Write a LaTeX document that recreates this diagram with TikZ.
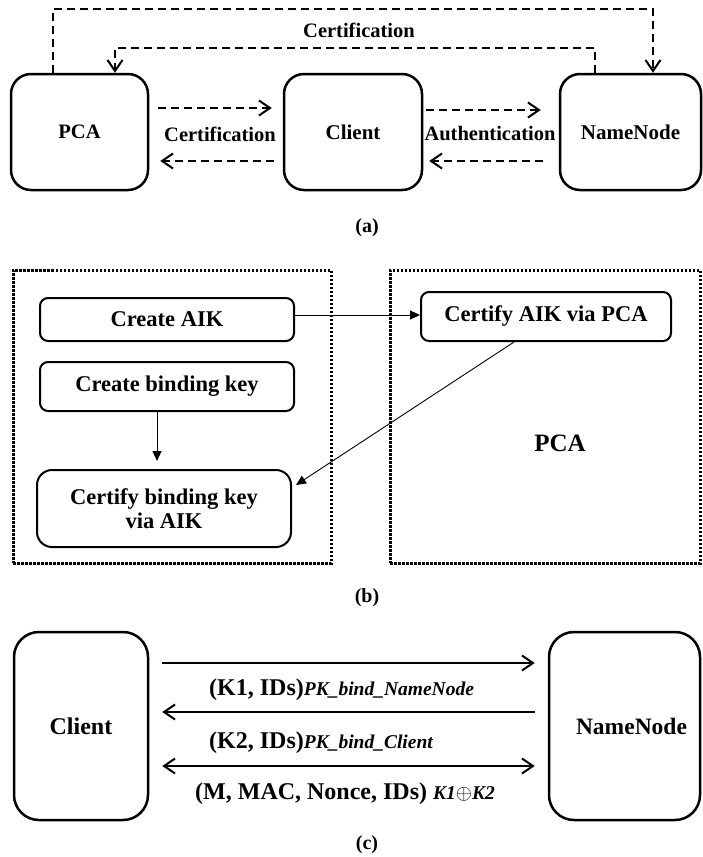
\documentclass[tikz,border=0pt]{standalone}
\usepackage{fontspec}
\setmainfont{Liberation Serif}
\usetikzlibrary{arrows.meta}

\newcommand{\fs}[1]{\fontsize{#1}{#1}\selectfont\bfseries}

\begin{document}
\begin{tikzpicture}[x=1pt,y=-1pt,
  bigbox/.style={draw,line width=2.5pt,rounded corners=#1,inner sep=0pt},
  bigbox/.default=20pt,
  stepbox/.style={draw,line width=2pt,rounded corners=#1,inner sep=0pt,align=center},
  stepbox/.default=8pt,
  dotbox/.style={draw,line width=3pt,dash pattern=on 2.5pt off 1.5pt,inner sep=0pt},
  barb/.tip={Straight Barb[length=11pt,width=15pt]},
  dashlink/.style={line width=2pt,dash pattern=on 8pt off 5pt,-{barb}},
  thinlink/.style={line width=0.9pt,-{Triangle[length=10pt,width=9pt]}},
  msg/.style={line width=2pt},
  caption/.style={font=\fs{20}},
]
\useasboundingbox (0,0) rectangle (702,857);

% ---------------- (a) ----------------
\node[bigbox,minimum width=137pt,minimum height=116pt,font=\fs{20.5}] (pca) at (79.5,132) {PCA};
\node[bigbox,minimum width=138pt,minimum height=116pt,font=\fs{21}] (cli) at (353,132) {Client};
\node[bigbox,minimum width=141pt,minimum height=116pt,font=\fs{21}] (nn) at (630.5,132) {NameNode};

\draw[dashlink] ([xshift=-26.5pt]pca.north) -- ++(0,-64) -| ([xshift=22.5pt]nn.north);
\draw[dashlink] ([xshift=-35.5pt]nn.north) -- ++(0,-25) -| ([xshift=35.5pt]pca.north);
\node[font=\fs{20.5}] (certtop) at (359,30) {Certification};

\draw[dashlink] ([xshift=9pt,yshift=24pt]pca.east) -- ([xshift=-11pt,yshift=24pt]cli.west);
\draw[dashlink] ([xshift=-9pt,yshift=-29pt]cli.west) -- ([xshift=11pt,yshift=-29pt]pca.east);
\node[font=\fs{20.5}] (certmid) at (220,134) {Certification};

\draw[dashlink] ([xshift=3pt,yshift=22pt]cli.east) -- ([xshift=-18pt,yshift=22pt]nn.west);
\draw[dashlink] ([xshift=-16pt,yshift=-29pt]nn.west) -- ([xshift=6pt,yshift=-29pt]cli.east);
\node[font=\fs{20.5}] (auth) at (490,134) {Authentication};

\node[caption] (capa) at (367,228) {(a)};

% ---------------- (b) ----------------
\node[dotbox,minimum width=318pt,minimum height=293pt] (left) at (172,416.5) {};
\node[dotbox,minimum width=310pt,minimum height=293pt] (right) at (545,416.5) {};

\node[stepbox,minimum width=254pt,minimum height=43pt,font=\fs{22.5}] (aik) at (167,319.5) {Create AIK};
\node[stepbox,minimum width=254pt,minimum height=49pt,font=\fs{22.5}] (bind) at (167,386.5) {Create binding key};
\node[stepbox=15pt,minimum width=254pt,minimum height=77pt,font=\fs{22.5}] (certbind) at (164,508.5)
  {Certify binding key\\[1pt]via AIK};
\node[stepbox,minimum width=250pt,minimum height=49pt,font=\fs{22.5}] (certaik) at (546,316.5) {Certify AIK via PCA};
\node[font=\fs{25}] (pcab) at (560,443) {PCA};

\draw[thinlink] ([yshift=4.5pt]aik.east) -- ([yshift=4.5pt]aik.east -| certaik.west);
\draw[thinlink,shorten >=8pt] ([xshift=-10pt]bind.south) -- ([xshift=-10pt]bind.south |- certbind.north);
\draw[thinlink] ([xshift=-32pt]certaik.south) -- ([xshift=4pt,yshift=23.5pt]certbind.east);

\node[caption] (capb) at (367,598) {(b)};

% ---------------- (c) ----------------
\node[bigbox=25pt,minimum width=134pt,minimum height=188pt,font=\fs{24}] (cli2) at (81,726) {Client};
\node[bigbox=25pt,minimum width=151pt,minimum height=188pt,font=\fs{23.5}] (nn2) at (624.5,726) {\hspace*{14pt}NameNode};

\draw[msg,-{barb}] ([xshift=13pt,yshift=63pt]cli2.east) -- ([xshift=-13pt,yshift=63pt]nn2.west);
\draw[msg,-{barb}] ([xshift=-13pt,yshift=14pt]nn2.west) -- ([xshift=13pt,yshift=14pt]cli2.east);
\draw[msg,{barb}-{barb}] ([xshift=13pt,yshift=-40pt]cli2.east) -- ([xshift=-13pt,yshift=-40pt]nn2.west);

\node[anchor=west,inner sep=0pt,font=\fs{24}] (m1) at (209,690)
  {(K1, IDs)\fontsize{19.5}{19.5}\selectfont\itshape PK\_bind\_NameNode};
\node[anchor=west,inner sep=0pt,font=\fs{24}] (m2) at (209,743)
  {(K2, IDs)\fontsize{19.5}{19.5}\selectfont\itshape PK\_bind\_Client};
\node[anchor=west,inner sep=0pt,font=\fs{24}] (m3) at (195,794)
  {(M, MAC, Nonce, IDs) \fontsize{19.5}{19.5}\selectfont\itshape K1\ensuremath{\oplus}K2};

\node[caption] (capc) at (367,845) {(c)};
\end{tikzpicture}
\end{document}
